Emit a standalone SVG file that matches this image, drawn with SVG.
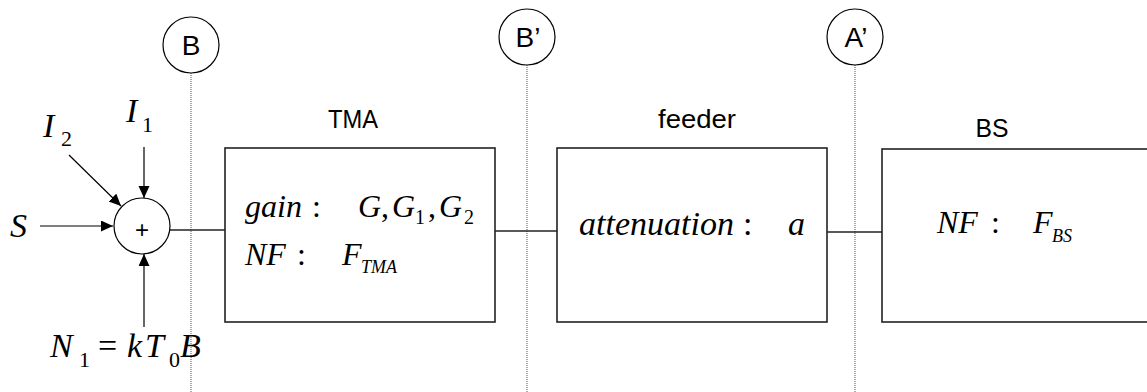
<svg xmlns="http://www.w3.org/2000/svg" width="1147" height="392" viewBox="0 0 1147 392">
  <style>
    .box { fill: #ffffff; stroke: #222222; stroke-width: 1.6; }
    .wire { fill: none; stroke: #222222; stroke-width: 1.6; }
    .arrow { fill: none; stroke: #000000; stroke-width: 1.2; marker-end: url(#head); }
    .ref { fill: #ffffff; stroke: #000000; stroke-width: 1.2; }
    .probe { stroke: #555555; stroke-width: 1; stroke-dasharray: 1 1; }
    .sans { font-family: "Liberation Sans", Arial, sans-serif; fill: #000000; }
    .title { font-size: 25px; text-anchor: middle; }
    .tag { font-size: 28px; text-anchor: middle; }
    .math { font-family: "Liberation Serif", "Times New Roman", serif; font-style: italic; fill: #000000; }
    .m34 { font-size: 34px; }
    .m32 { font-size: 32px; }
    .up { font-style: normal; }
    .s22 { font-size: 22px; }
    .s20 { font-size: 20px; }
    .s18 { font-size: 18px; }
  </style>
  <defs>
    <marker id="head" markerUnits="userSpaceOnUse" markerWidth="14" markerHeight="12" refX="12" refY="5.5" orient="auto">
      <path d="M0,0 L12,5.5 L0,11 Z" fill="#000000"/>
    </marker>
  </defs>

  <!-- measurement reference points with their dotted probe lines -->
  <g id="ref-B">
    <line class="probe" x1="191" y1="73" x2="191" y2="392"/>
    <circle class="ref" cx="191" cy="45" r="28"/>
    <text class="sans tag" x="191" y="55">B</text>
  </g>
  <g id="ref-B-prime">
    <line class="probe" x1="527" y1="65" x2="527" y2="392"/>
    <circle class="ref" cx="527" cy="37" r="28"/>
    <text class="sans tag" x="528" y="47">B’</text>
  </g>
  <g id="ref-A-prime">
    <line class="probe" x1="855" y1="65" x2="855" y2="392"/>
    <circle class="ref" cx="855" cy="37" r="28"/>
    <text class="sans tag" x="856" y="47">A’</text>
  </g>

  <!-- connectors -->
  <g id="connectors">
    <line class="arrow" x1="40" y1="226" x2="113" y2="226"/>
    <line class="arrow" x1="144" y1="147" x2="144" y2="198"/>
    <line class="arrow" x1="69" y1="155" x2="121" y2="206"/>
    <line class="arrow" x1="144" y1="327" x2="144" y2="254"/>
    <line class="wire" x1="170" y1="230" x2="225" y2="230"/>
    <line class="wire" x1="495" y1="231" x2="557" y2="231"/>
    <line class="wire" x1="827" y1="232" x2="882" y2="232"/>
  </g>

  <!-- input signal labels -->
  <g id="input-S">
    <text class="math m34" x="10" y="237">S</text>
  </g>
  <g id="input-I2">
    <text class="math m34" x="43" y="137">I</text>
    <text class="math up s22" x="61" y="146">2</text>
  </g>
  <g id="input-I1">
    <text class="math m34" x="126" y="122">I</text>
    <text class="math up s22" x="142" y="132">1</text>
  </g>
  <g id="input-N1">
    <text class="math m34" x="50" y="357">N</text>
    <text class="math up s22" x="79" y="367">1</text>
    <text class="math m34 up" x="98" y="357">=</text>
    <text class="math m34" x="127" y="357">k</text>
    <text class="math m34" x="145" y="357">T</text>
    <text class="math up s22" x="169" y="367">0</text>
    <text class="math m34" x="180" y="357">B</text>
  </g>

  <!-- summing junction -->
  <g id="sum">
    <circle class="ref" cx="142" cy="226" r="28"/>
    <text class="sans" x="142" y="238" font-size="24" text-anchor="middle">+</text>
  </g>

  <!-- tower mounted amplifier -->
  <g id="tma">
    <text class="sans title" x="353" y="128" textLength="50" lengthAdjust="spacingAndGlyphs">TMA</text>
    <rect class="box" x="225" y="148" width="270" height="174"/>
    <text class="math m32" x="245" y="217">gain</text>
    <text class="math m32 up" x="312" y="217">:</text>
    <text class="math m32" x="358" y="217">G</text>
    <text class="math m32 up" x="381" y="217">,</text>
    <text class="math m32" x="392" y="217">G</text>
    <text class="math up s20" x="415" y="224">1</text>
    <text class="math m32 up" x="428" y="217">,</text>
    <text class="math m32" x="439" y="217">G</text>
    <text class="math up s20" x="464" y="224">2</text>
    <text class="math m32" x="245" y="265">NF</text>
    <text class="math m32 up" x="297" y="265">:</text>
    <text class="math m32" x="342" y="265">F</text>
    <text class="math s18" x="361" y="273">TMA</text>
  </g>

  <!-- feeder cable -->
  <g id="feeder">
    <text class="sans title" x="697" y="128" textLength="78" lengthAdjust="spacingAndGlyphs">feeder</text>
    <rect class="box" x="557" y="148" width="270" height="174"/>
    <text class="math m34" x="579" y="235">attenuation</text>
    <text class="math m34 up" x="743" y="235">:</text>
    <text class="math m34" x="788" y="235">a</text>
  </g>

  <!-- base station receiver -->
  <g id="bs">
    <text class="sans title" x="992" y="137" textLength="33" lengthAdjust="spacingAndGlyphs">BS</text>
    <rect class="box" x="882" y="149" width="290" height="173"/>
    <text class="math m32" x="937" y="233">NF</text>
    <text class="math m32 up" x="991" y="233">:</text>
    <text class="math m32" x="1033" y="233">F</text>
    <text class="math s18" x="1052" y="242">BS</text>
  </g>
</svg>
